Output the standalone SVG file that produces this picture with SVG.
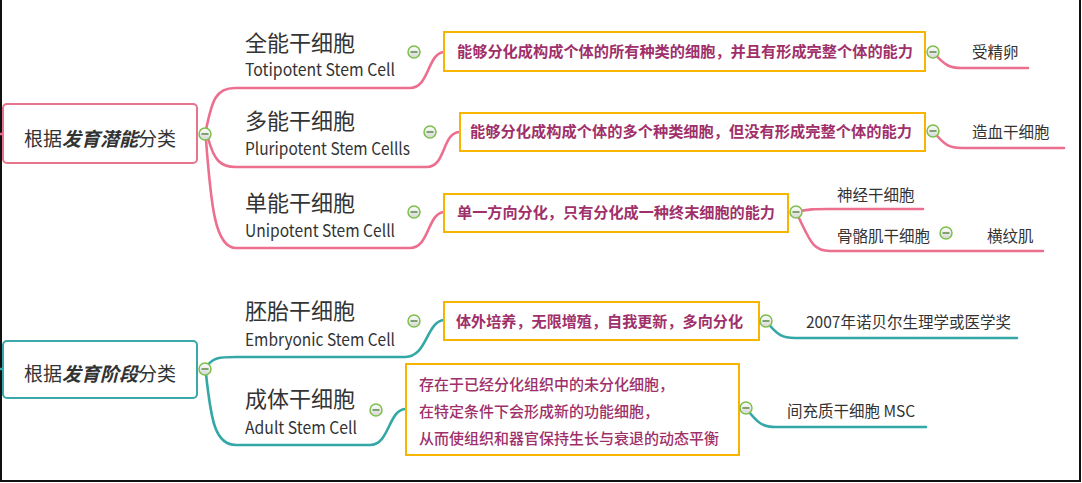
<svg xmlns="http://www.w3.org/2000/svg" width="1082" height="483" viewBox="0 0 1082 483">
<defs>
<style>
.bg{fill:#ffffff}
.frame{fill:none;stroke:#111111;stroke-width:2}
.cp{fill:none;stroke:#ec6f90;stroke-width:2.6;stroke-linecap:round}
.ct{fill:none;stroke:#33a8a6;stroke-width:2.6;stroke-linecap:round}
.rootp{fill:#ffffff;stroke:#e8738c;stroke-width:2}
.roott{fill:#ffffff;stroke:#3aa8a8;stroke-width:2}
.box{fill:#ffffff;stroke:#f7b500;stroke-width:2}
.rt{font-family:"Noto Sans CJK SC","Liberation Sans",sans-serif;font-size:19px;fill:#333333}
.bi{font-weight:bold;font-style:italic}
.tt{font-family:"Noto Sans CJK SC","Liberation Sans",sans-serif;font-size:22px;fill:#333333}
.en{font-family:"Noto Sans CJK SC","Liberation Sans",sans-serif;font-size:17px;fill:#333333}
.bt{font-family:"Noto Sans CJK SC","Liberation Sans",sans-serif;font-size:15px;fill:#a0306a;font-weight:bold}
.bt2{font-family:"Noto Sans CJK SC","Liberation Sans",sans-serif;font-size:15px;fill:#a0306a;font-weight:500}
.lt{font-family:"Noto Sans CJK SC","Liberation Sans",sans-serif;font-size:15.5px;fill:#333333}
</style>
<linearGradient id="mg" x1="0" y1="0" x2="0" y2="1">
<stop offset="0" stop-color="#ffffff"/>
<stop offset="1" stop-color="#d6d6d6"/>
</linearGradient>
<g id="m">
<circle cx="0" cy="0" r="6" fill="url(#mg)" stroke="#7cc04a" stroke-width="1.5"/>
<line x1="-3.5" y1="0" x2="3.5" y2="0" stroke="#5c8a4a" stroke-width="1.5"/>
</g>
</defs>
<rect class="bg" x="0" y="0" width="1082" height="483"/>
<path class="frame" d="M1,0 L1,481 L1080,481 L1080,0"/>

<g id="connectors">
<path class="cp" d="M0,134 L3,134"/>
<path class="cp" d="M206,130 C212,100 216,88 235,88 L410,88 C430,88 427,52 445,52"/>
<path class="cp" d="M208,138 C214,160 220,167 236,167 L427,167 C446,167 442,132 460,132"/>
<path class="cp" d="M206,140 C211,205 215,248 236,248 L410,248 C430,248 427,212 445,212"/>
<path class="cp" d="M933,52 C945,66 950,68 962,68 L1028,68"/>
<path class="cp" d="M933,131 C945,146 950,148 962,148 L1064,148"/>
<path class="cp" d="M796,212 C808,209 815,209 828,209 L923,209"/>
<path class="cp" d="M796,212 C810,240 812,251 830,251 L1043,251"/>
<path class="ct" d="M0,369 L3,369"/>
<path class="ct" d="M207,366 C213,358 218,357 236,357 L405,357 C428,357 426,320 445,320"/>
<path class="ct" d="M206,374 C211,420 215,445 236,445 L370,445 C390,445 388,409 406,409"/>
<path class="ct" d="M766,321 C778,336 783,338 795,338 L1017,338"/>
<path class="ct" d="M746,408 C758,424 763,427 776,427 L926,427"/>
</g>

<g id="root1">
<rect class="rootp" x="3" y="104" width="194" height="59" rx="4"/>
<text class="rt" x="100" y="146" text-anchor="middle">根据<tspan class="bi">发育潜能</tspan>分类</text>
</g>
<g id="root2">
<rect class="roott" x="3" y="341" width="194" height="57" rx="4"/>
<text class="rt" x="100" y="381" text-anchor="middle">根据<tspan class="bi">发育阶段</tspan>分类</text>
</g>

<g id="totipotent">
<text class="tt" x="245" y="51">全能干细胞</text>
<text class="en" x="245" y="76" textLength="150" lengthAdjust="spacingAndGlyphs">Totipotent Stem Cell</text>
</g>
<g id="pluripotent">
<text class="tt" x="245" y="129">多能干细胞</text>
<text class="en" x="245" y="155" textLength="165" lengthAdjust="spacingAndGlyphs">Pluripotent Stem Cellls</text>
</g>
<g id="unipotent">
<text class="tt" x="245" y="211">单能干细胞</text>
<text class="en" x="245" y="237" textLength="150" lengthAdjust="spacingAndGlyphs">Unipotent Stem Celll</text>
</g>
<g id="embryonic">
<text class="tt" x="245" y="319">胚胎干细胞</text>
<text class="en" x="245" y="346" textLength="150" lengthAdjust="spacingAndGlyphs">Embryonic Stem Cell</text>
</g>
<g id="adult">
<text class="tt" x="245" y="407">成体干细胞</text>
<text class="en" x="245" y="434" textLength="112" lengthAdjust="spacingAndGlyphs">Adult Stem Cell</text>
</g>

<g id="desc1">
<rect class="box" x="444" y="32" width="481" height="39"/>
<text class="bt" x="457" y="57" textLength="456" lengthAdjust="spacingAndGlyphs">能够分化成构成个体的所有种类的细胞，并且有形成完整个体的能力</text>
</g>
<g id="desc2">
<rect class="box" x="460" y="113" width="465" height="38"/>
<text class="bt" x="470" y="137" textLength="442" lengthAdjust="spacingAndGlyphs">能够分化成构成个体的多个种类细胞，但没有形成完整个体的能力</text>
</g>
<g id="desc3">
<rect class="box" x="444" y="194" width="344" height="38"/>
<text class="bt" x="457" y="218" textLength="318" lengthAdjust="spacingAndGlyphs">单一方向分化，只有分化成一种终末细胞的能力</text>
</g>
<g id="desc4">
<rect class="box" x="444" y="302" width="315" height="38"/>
<text class="bt" x="456" y="327" textLength="287" lengthAdjust="spacingAndGlyphs">体外培养，无限增殖，自我更新，多向分化</text>
</g>
<g id="desc5">
<rect class="box" x="406" y="364" width="333" height="91"/>
<text class="bt2" x="419" y="390">存在于已经分化组织中的未分化细胞，</text>
<text class="bt2" x="419" y="417">在特定条件下会形成新的功能细胞，</text>
<text class="bt2" x="419" y="444">从而使组织和器官保持生长与衰退的动态平衡</text>
</g>

<g id="zygote"><text class="lt" x="972" y="58">受精卵</text></g>
<g id="hsc"><text class="lt" x="972" y="138">造血干细胞</text></g>
<g id="nsc"><text class="lt" x="837" y="201">神经干细胞</text></g>
<g id="msc-skeletal"><text class="lt" x="837" y="242">骨骼肌干细胞</text></g>
<g id="striated"><text class="lt" x="987" y="242">横纹肌</text></g>
<g id="nobel"><text class="lt" x="806" y="328">2007年诺贝尔生理学或医学奖</text></g>
<g id="mesenchymal"><text class="lt" x="787" y="417">间充质干细胞 MSC</text></g>

<g id="markers">
<use href="#m" x="205" y="134"/>
<use href="#m" x="414" y="52"/>
<use href="#m" x="430" y="132"/>
<use href="#m" x="414" y="212"/>
<use href="#m" x="933" y="52"/>
<use href="#m" x="933" y="131"/>
<use href="#m" x="796" y="212"/>
<use href="#m" x="946" y="233"/>
<use href="#m" x="205" y="369"/>
<use href="#m" x="414" y="321"/>
<use href="#m" x="376" y="410"/>
<use href="#m" x="766" y="321"/>
<use href="#m" x="746" y="408"/>
</g>
</svg>
